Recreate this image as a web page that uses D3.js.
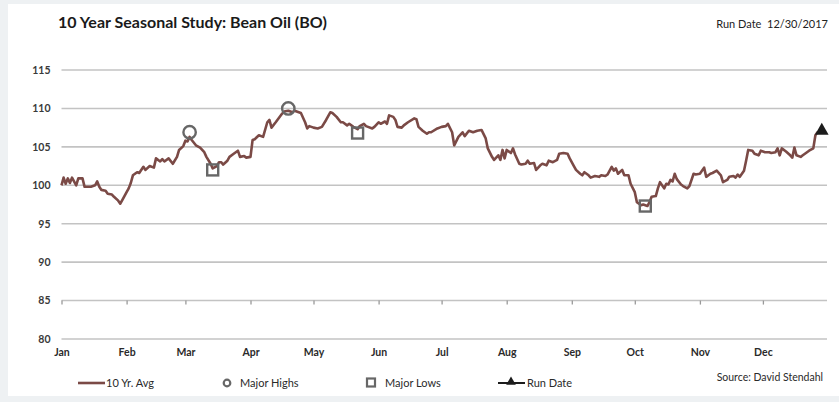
<!DOCTYPE html>
<html>
<head>
<meta charset="utf-8">
<script src="https://cdn.jsdelivr.net/npm/d3@7"></script>
<style>
  html, body { margin: 0; padding: 0; background: #eef1f3; }
  svg { display: block; font-family: Lato, "Open Sans", sans-serif; }
</style>
</head>
<body>
<svg id="chart" width="839" height="402"></svg>
<script>
// 10-year seasonal average for Bean Oil, indexed to 100 at the start of the year
const dayOfYear = [
  0, 1, 2, 3, 4, 5, 7, 8, 10, 11, 14, 16, 17, 18, 19, 21, 22, 24, 25, 27, 28, 29,
  31, 32, 33, 34, 36, 37, 39, 40, 42, 44, 45, 47, 48, 49, 51, 53, 55, 56, 58, 59,
  60, 61, 62, 64, 66, 68, 69, 71, 72, 74, 75, 76, 77, 79, 80, 82, 83, 84, 85, 87,
  88, 90, 91, 92, 94, 96, 98, 99, 100, 102, 105, 106, 108, 110, 111, 113, 114, 116,
  117, 118, 120, 122, 124, 126, 128, 129, 131, 133, 134, 136, 137, 139, 141, 142,
  144, 145, 148, 149, 151, 152, 154, 155, 156, 158, 159, 160, 162, 163, 165, 168,
  169, 170, 172, 174, 175, 176, 179, 181, 183, 184, 186, 187, 189, 191, 192, 194,
  196, 198, 200, 202, 203, 205, 206, 208, 209, 210, 211, 212, 214, 215, 216, 218,
  219, 221, 222, 223, 225, 226, 228, 229, 231, 232, 234, 236, 237, 239, 241, 242,
  244, 245, 247, 248, 249, 251, 252, 254, 256, 257, 259, 260, 262, 263, 264, 265,
  267, 268, 270, 271, 273, 274, 276, 277, 279, 280, 281, 283, 284, 285, 287, 288,
  289, 290, 291, 292, 293, 295, 296, 298, 299, 301, 302, 304, 306, 307, 309, 310,
  312, 314, 315, 317, 318, 320, 321, 322, 323, 325, 326, 327, 329, 330, 332, 333,
  335, 337, 338, 340, 341, 342, 343, 345, 347, 348, 349, 350, 352, 353, 355, 356,
  358, 359, 360, 362, 363
];
const avgValues = [
  100.0, 101.0, 100.2, 100.9, 100.3, 101.0, 100.0, 100.9, 100.9, 99.8, 99.8, 100.0, 100.5, 99.8, 99.4, 99.3, 98.9, 98.8, 98.5, 98.0, 97.6, 98.1,
  99.1, 99.6, 100.3, 101.3, 101.7, 101.6, 102.4, 102.0, 102.5, 102.3, 103.5, 103.1, 103.4, 103.1, 103.5, 102.8, 103.7, 104.6, 105.1, 105.8,
  105.7, 106.3, 105.9, 105.2, 104.9, 104.3, 103.7, 102.8, 102.2, 102.5, 103.0, 103.0, 102.7, 103.2, 103.7, 104.1, 104.3, 104.5, 103.7, 103.8,
  103.6, 103.7, 105.9, 106.0, 106.5, 106.3, 108.2, 108.5, 107.5, 108.2, 109.3, 109.6, 109.7, 109.5, 109.7, 109.5, 109.4, 108.2,
  107.4, 107.7, 107.5, 107.4, 107.6, 108.5, 109.5, 109.4, 108.9, 108.2, 108.2, 107.8, 108.0, 107.6, 107.3, 107.7,
  108.0, 107.7, 107.4, 107.6, 108.2, 108.0, 108.3, 108.0, 109.1, 108.9, 108.5, 107.6, 107.5, 107.8, 108.2, 108.7,
  108.6, 107.6, 107.1, 106.7, 106.9, 106.9, 107.4, 107.6, 107.7, 108.0, 106.9, 105.2, 106.3, 106.9, 106.4, 107.1,
  106.9, 107.1, 107.2, 106.1, 104.8, 103.7, 103.3, 103.9, 103.3, 104.6, 103.5, 104.6, 104.2, 104.8, 104.0, 102.8,
  102.7, 102.8, 103.2, 102.8, 102.9, 102.0, 102.6, 102.8, 102.6, 103.2, 103.0, 103.3, 104.1, 104.2, 104.1, 103.5,
  102.5, 102.0, 101.5, 101.3, 101.7, 101.3, 101.0, 101.2, 101.1, 101.3, 101.2, 101.4, 102.4, 101.9, 102.2, 101.5,
  102.0, 101.3, 101.3, 100.2, 99.1, 97.8, 97.4, 97.5, 97.3, 97.8, 98.5, 98.6, 99.6, 100.4, 99.6, 100.2,
  100.1, 100.7, 100.5, 101.5, 100.8, 100.1, 99.9, 99.6, 99.9, 101.5, 101.4, 101.5, 102.3, 101.1, 101.5, 101.6,
  101.9, 101.3, 100.4, 100.7, 101.1, 101.2, 101.0, 101.4, 101.1, 101.9, 103.2, 104.6, 104.5, 104.1, 103.9, 104.5,
  104.3, 104.3, 104.2, 104.3, 104.8, 103.9, 104.8, 104.4, 103.9, 103.6, 104.9, 103.9, 103.7, 103.9, 104.3, 104.5,
  104.8, 106.5, 106.9, 107.0, 107.1
];

// Seasonal turning points and the run date
const highDays = [61, 108];
const highValues = [106.9, 110.0];
const lowDays = [72, 141, 278];
const lowValues = [102.0, 106.8, 97.3];
const runDays = [363];
const runValues = [107.1];

const yTicks = [80, 85, 90, 95, 100, 105, 110, 115];
const monthLabels = ["Jan", "Feb", "Mar", "Apr", "May", "Jun", "Jul", "Aug", "Sep", "Oct", "Nov", "Dec"];
const legendLabels = ["10 Yr. Avg", "Major Highs", "Major Lows", "Run Date"];

const titleText = "10 Year Seasonal Study: Bean Oil (BO)";
const runDateText = "Run Date  12/30/2017";
const sourceText = "Source: David Stendahl";

const lineColor = "#7b4a46";
const markerColor = "#676767";
const gridColor = "#c3c3c3";

const svg = d3.select("#chart");
const yearStart = new Date(2017, 0, 1);
const yearEnd = new Date(2018, 0, 1);
const toDate = d => d3.timeDay.offset(yearStart, d);

// White card behind the chart
svg.append("rect")
  .attr("x", 8).attr("y", 4).attr("width", 831).attr("height", 392)
  .attr("fill", "#ffffff");

const x = d3.scaleTime().domain([yearStart, yearEnd]).range([61.5, 828]);
const y = d3.scaleLinear().domain([80, 115]).range([339, 70]);

// Horizontal gridlines
svg.append("g").selectAll("line")
  .data(yTicks)
  .join("line")
  .attr("x1", x(yearStart)).attr("x2", x(yearEnd) - 1)
  .attr("y1", d => y(d)).attr("y2", d => y(d))
  .attr("stroke", gridColor).attr("stroke-width", 1.6);

// Y axis labels
const yAxis = svg.append("g")
  .attr("transform", `translate(${x(yearStart)},0)`)
  .call(d3.axisLeft(y).tickValues(yTicks).tickSize(0).tickPadding(11).tickFormat(d3.format("d")));
yAxis.select(".domain").remove();
yAxis.selectAll("text")
  .attr("font-family", "Lato, sans-serif")
  .attr("font-size", 10.5).attr("font-weight", 700).attr("fill", "#3a3a3a");

// Month tick marks sit on the 85 line
const monthStarts = d3.timeMonth.range(yearStart, yearEnd);
const tickAxis = svg.append("g")
  .attr("transform", `translate(0,${y(85)})`)
  .call(d3.axisBottom(x).tickValues(monthStarts).tickSize(4).tickFormat(""));
tickAxis.select(".domain").remove();
tickAxis.selectAll("line").attr("stroke", "#9a9a9a").attr("stroke-width", 1.3);

// Month labels below the bottom gridline
const monthAxis = svg.append("g")
  .attr("transform", `translate(0,${y(80)})`)
  .call(d3.axisBottom(x).tickValues(monthStarts).tickSize(0).tickPadding(10)
    .tickFormat((d, i) => monthLabels[i]));
monthAxis.select(".domain").remove();
monthAxis.selectAll("text")
  .attr("font-family", "Lato, sans-serif")
  .attr("font-size", 10.5).attr("font-weight", 700).attr("fill", "#2a2a2a");

// Seasonal average line
const series = dayOfYear.map((d, i) => ({ date: toDate(d), value: avgValues[i] }));
svg.append("path")
  .datum(series)
  .attr("fill", "none")
  .attr("stroke", lineColor)
  .attr("stroke-width", 2.6)
  .attr("stroke-linejoin", "round")
  .attr("d", d3.line().x(d => x(d.date)).y(d => y(d.value)));

// Major highs
svg.append("g").selectAll("circle")
  .data(highDays.map((d, i) => ({ date: toDate(d), value: highValues[i] })))
  .join("circle")
  .attr("cx", d => x(d.date)).attr("cy", d => y(d.value))
  .attr("r", 6.2)
  .attr("fill", "none").attr("stroke", markerColor).attr("stroke-width", 2.4);

// Major lows
svg.append("g").selectAll("rect")
  .data(lowDays.map((d, i) => ({ date: toDate(d), value: lowValues[i] })))
  .join("rect")
  .attr("x", d => x(d.date) - 5.5).attr("y", d => y(d.value) - 5.5)
  .attr("width", 11).attr("height", 11)
  .attr("fill", "none").attr("stroke", markerColor).attr("stroke-width", 2.4);

// Run date
svg.append("g").selectAll("path")
  .data(runDays.map((d, i) => ({ date: toDate(d), value: runValues[i] })))
  .join("path")
  .attr("transform", d => `translate(${x(d.date) - 2},${y(d.value)})`)
  .attr("d", d3.symbol(d3.symbolTriangle, 80))
  .attr("fill", "#1c1c1c");

// Title and run date header
svg.append("text")
  .attr("x", 58).attr("y", 28)
  .attr("font-family", "Lato, sans-serif")
  .attr("font-size", 16).attr("font-weight", 700).attr("fill", "#1a1a1a")
  .text(titleText);
svg.append("text")
  .attr("x", 828).attr("y", 28).attr("text-anchor", "end")
  .attr("font-family", "Lato, sans-serif")
  .attr("font-size", 11).attr("fill", "#222")
  .style("white-space", "pre")
  .text(runDateText);

// Legend
const legendY = 383;
const legend = svg.append("g").attr("font-family", "Lato, sans-serif").attr("font-size", 11).attr("fill", "#2a2a2a");

legend.append("line")
  .attr("x1", 78).attr("x2", 105).attr("y1", legendY).attr("y2", legendY)
  .attr("stroke", lineColor).attr("stroke-width", 2.6);
legend.append("text").attr("x", 106).attr("y", legendY + 4).text(legendLabels[0]);

legend.append("circle")
  .attr("cx", 227).attr("cy", legendY).attr("r", 3.3)
  .attr("fill", "none").attr("stroke", markerColor).attr("stroke-width", 2.2);
legend.append("text").attr("x", 240).attr("y", legendY + 4).text(legendLabels[1]);

legend.append("rect")
  .attr("x", 367).attr("y", legendY - 4.5).attr("width", 8).attr("height", 8)
  .attr("fill", "none").attr("stroke", markerColor).attr("stroke-width", 2.2);
legend.append("text").attr("x", 385).attr("y", legendY + 4).text(legendLabels[2]);

legend.append("line")
  .attr("x1", 498).attr("x2", 525).attr("y1", legendY).attr("y2", legendY)
  .attr("stroke", "#1c1c1c").attr("stroke-width", 2);
legend.append("path")
  .attr("transform", `translate(511,${legendY - 1})`)
  .attr("d", d3.symbol(d3.symbolTriangle, 40))
  .attr("fill", "#1c1c1c");
legend.append("text").attr("x", 527).attr("y", legendY + 4).text(legendLabels[3]);

legend.append("text")
  .attr("x", 823).attr("y", 381).attr("text-anchor", "end")
  .attr("font-size", 10.5)
  .text(sourceText);
</script>
</body>
</html>
